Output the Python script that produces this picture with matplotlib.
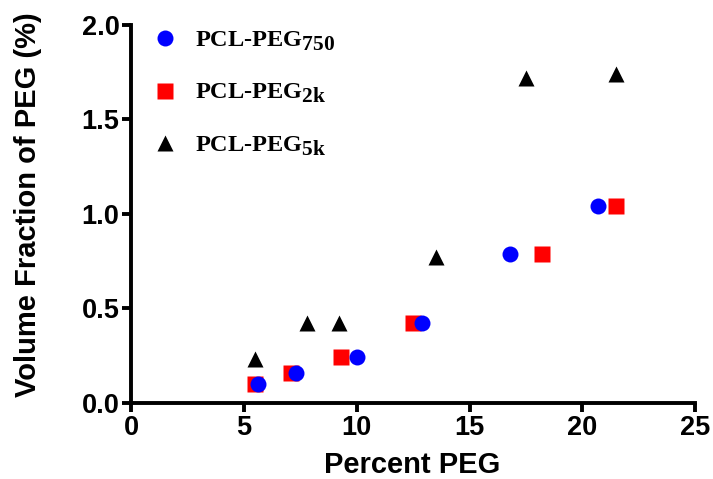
import matplotlib.pyplot as plt
import matplotlib._mathtext as mathtext_internal

plt.rcParams['font.family'] = 'Liberation Sans'
plt.rcParams['font.weight'] = 'bold'
plt.rcParams['mathtext.fontset'] = 'custom'
plt.rcParams['mathtext.bf'] = 'Liberation Serif:bold'
plt.rcParams['mathtext.rm'] = 'Liberation Serif:bold'
# the subscripts in the legend are bigger than mathtext's default
mathtext_internal.SHRINK_FACTOR = 0.88

# data
peg750_x = [5.6, 7.3, 10.0, 12.9, 16.8, 20.7]
peg750_y = [0.10, 0.16, 0.24, 0.42, 0.79, 1.04]
peg2k_x = [5.5, 7.1, 9.3, 12.5, 18.2, 21.5]
peg2k_y = [0.10, 0.16, 0.24, 0.42, 0.79, 1.04]
peg5k_x = [5.5, 7.8, 9.2, 13.5, 17.5, 21.5]
peg5k_y = [0.23, 0.42, 0.42, 0.77, 1.72, 1.74]

labels = ['PCL-PEG$_{\\mathbf{750}}$', 'PCL-PEG$_{\\mathbf{2k}}$', 'PCL-PEG$_{\\mathbf{5k}}$']

fig = plt.figure(figsize=(7.13, 4.79), dpi=100)
ax = fig.add_axes([0.184, 0.159, 0.791, 0.789])

ax.plot(peg2k_x, peg2k_y, 's', color='#ff0000', ms=11, mec='none', label=labels[1])
ax.plot(peg750_x, peg750_y, 'o', color='#0000ff', ms=11.5, mec='none', label=labels[0])
ax.plot(peg5k_x, peg5k_y, '^', color='black', ms=11, mec='none', label=labels[2])

ax.set_xlim(0, 25)
ax.set_ylim(0, 2.0)
ax.set_xticks([0, 5, 10, 15, 20, 25])
ax.set_yticks([0.0, 0.5, 1.0, 1.5, 2.0])
ax.set_yticklabels(['0.0', '0.5', '1.0', '1.5', '2.0'])

for s in ['top', 'right']:
    ax.spines[s].set_visible(False)
for s in ['left', 'bottom']:
    ax.spines[s].set_linewidth(2.8)
ax.tick_params(width=2.8, length=6.5, direction='out', labelsize=19.5, pad=2)

ax.set_xlabel('Percent PEG', fontsize=21, fontweight='bold')
ax.set_ylabel('Volume Fraction of PEG (%)', fontsize=21, fontweight='bold')
ax.xaxis.set_label_coords(0.499, -0.128)
ax.yaxis.set_label_coords(-0.158, 0.524)

h, l = ax.get_legend_handles_labels()
order = [1, 0, 2]
leg = ax.legend([h[i] for i in order], [l[i] for i in order], loc='upper left',
                bbox_to_anchor=(-0.005, 1.045), frameon=False, labelspacing=1.2,
                handletextpad=0.65, handlelength=1.2,
                prop={'family': 'Liberation Serif', 'weight': 'bold', 'size': 17.5})

fig.savefig('out.png', dpi=100)
